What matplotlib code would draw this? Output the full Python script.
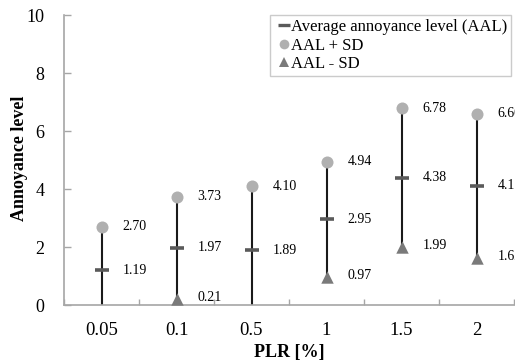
import matplotlib
matplotlib.use("Agg")
import matplotlib.pyplot as plt
import numpy as np
from matplotlib.lines import Line2D

categories = ["0.05", "0.1", "0.5", "1", "1.5", "2"]
aal = [1.19, 1.97, 1.89, 2.95, 4.38, 4.11]
aal_plus_sd = [2.70, 3.73, 4.10, 4.94, 6.78, 6.60]
aal_minus_sd = [-0.32, 0.21, -0.32, 0.97, 1.99, 1.62]
yticks = [0, 2, 4, 6, 8, 10]

plt.rcParams['font.family'] = ['Liberation Serif', 'DejaVu Serif']

fig = plt.figure(figsize=(5.15, 3.62), dpi=100)
ax = fig.add_axes([64/515, 1-305/362, 450/515, 290/362])

x = np.arange(len(categories))
spine_c = '#a6a6a6'

for xi, lo, hi in zip(x, aal_minus_sd, aal_plus_sd):
    ax.plot([xi, xi], [lo, hi], color='#1a1a1a', lw=1.5, zorder=2)

ax.scatter(x, aal_plus_sd, s=75, color='#b0b0b0', zorder=3, linewidths=0)
ax.scatter(x, aal, marker='_', s=110, color='#5a5a5a', linewidths=2.6, zorder=4)
ax.scatter(x, aal_minus_sd, marker='^', s=80, color='#7a7a7a', zorder=3, linewidths=0)

def label(xi, v, dy=0):
    ax.annotate(f"{v:.2f}", (xi, v), xytext=(15, dy), textcoords='offset points',
                fontsize=10, va='center', ha='left', annotation_clip=False)

for xi, v in zip(x, aal_plus_sd):
    label(xi, v)
for xi, v in zip(x, aal):
    label(xi, v)
for xi, v in zip(x, aal_minus_sd):
    if v >= 0:
        label(xi, v, dy=1)

ax.set_xlim(-0.5, len(categories) - 0.5)
ax.set_ylim(0, 10)
ax.set_yticks(yticks)
ax.set_yticklabels([str(t) for t in yticks], fontsize=13)
ax.set_xticks(x)
ax.set_xticklabels(categories, fontsize=13.5)
ax.set_xticks(np.arange(len(categories) + 1) - 0.5, minor=True)
ax.tick_params(axis='x', which='major', length=0, pad=12)
ax.tick_params(axis='x', which='minor', direction='in', length=4, color=spine_c, width=1)
ax.tick_params(axis='y', which='major', direction='in', length=5, color=spine_c, width=1, pad=14)

for s in ['top', 'right']:
    ax.spines[s].set_visible(False)
for s in ['left', 'bottom']:
    ax.spines[s].set_color(spine_c)
    ax.spines[s].set_linewidth(1.2)

ax.set_xlabel("PLR [%]", fontsize=13, fontweight='bold', labelpad=4)
ax.set_ylabel("Annoyance level", fontsize=13, fontweight='bold')
ax.yaxis.set_label_coords((28 - 64) / 450, (305 - 158.5) / 290)

handles = [
    Line2D([], [], marker='_', color='#5a5a5a', ls='none', markersize=8, markeredgewidth=2.4),
    Line2D([], [], marker='o', color='#b0b0b0', ls='none', markersize=7, markeredgewidth=0),
    Line2D([], [], marker='^', color='#7a7a7a', ls='none', markersize=7.5, markeredgewidth=0),
]
labels = ["Average annoyance level (AAL)", "AAL + SD", "AAL - SD"]
leg = ax.legend(handles, labels, loc='upper left', bbox_to_anchor=(270/515, 1-15/362),
                bbox_transform=fig.transFigure, fontsize=12, frameon=True,
                fancybox=False, edgecolor='#bfbfbf', handlelength=1.2, handletextpad=-0.2,
                borderpad=0.25, labelspacing=0.15, borderaxespad=0)
leg.get_frame().set_linewidth(1.0)

fig.savefig("out.png", dpi=100)
